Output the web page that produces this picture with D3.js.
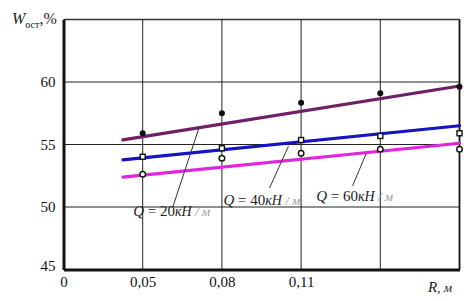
<!DOCTYPE html>
<html>
<head>
<meta charset="utf-8">
<script src="https://cdn.jsdelivr.net/npm/d3@7"></script>
<style>
  body { margin: 0; background: #fff; }
</style>
</head>
<body>
<div id="chart"></div>
<script>
"use strict";

// x positions are evenly spaced categories (index), labels as printed
const xTickLabels = ["0", "0,05", "0,08", "0,11", "", ""];
const pointIndex = [1, 2, 3, 4, 5];
const yTicks = [45, 50, 55, 60];

// measured points
const q20Points = [55.9, 57.5, 58.34, 59.1, 59.62];
const q40Points = [54.02, 54.7, 55.36, 55.68, 55.9];
const q60Points = [52.62, 53.9, 54.3, 54.62, 54.62];

// fitted lines: [start index, end index] and values
const fitIndex = [0.75, 5];
const q20Fit = [55.37, 59.68];
const q40Fit = [53.77, 56.5];
const q60Fit = [52.39, 55.1];

// label values and leader lines (index, value)
const seriesLoads = ["20", "40", "60"];
const labelAnchor = [[0.88, 49.25], [2.02, 50.2], [3.19, 50.52]];
const leaderFrom = [[1.38, 50.0], [2.6, 51.5], [3.65, 51.7]];
const leaderTo = [[1.71, 56.32], [2.84, 54.86], [3.82, 54.24]];

const serif = "'Liberation Serif', 'Times New Roman', 'DejaVu Serif', serif";

function draw() {
    const width = 469, height = 301;
    const margin = { top: 19.5, right: 9.5, bottom: 31.5, left: 63.5 };
    const w = width - margin.left - margin.right;
    const h = height - margin.top - margin.bottom;

    const xScale = d3.scaleLinear().domain([0, 5]).range([0, w]);
    const yScale = d3.scaleLinear().domain([45, 65]).range([h, 0]);

    let svg = d3.select("#chart").append("svg")
        .attr("width", width)
        .attr("height", height)
        .append("g")
        .attr("transform", `translate(${margin.left},${margin.top})`);

    // grid
    svg.append("g")
        .selectAll("line")
        .data(d3.range(1, 5))
        .enter()
        .append("line")
        .attr("x1", d => xScale(d)).attr("x2", d => xScale(d))
        .attr("y1", 0).attr("y2", h)
        .style("stroke", "#222").style("stroke-width", 1);

    svg.append("g")
        .selectAll("line")
        .data([50, 55, 60])
        .enter()
        .append("line")
        .attr("x1", 0).attr("x2", w)
        .attr("y1", d => yScale(d)).attr("y2", d => yScale(d))
        .style("stroke", "#222").style("stroke-width", 1);

    // frame: top and right thinner
    svg.append("line").attr("x1", 0).attr("x2", w).attr("y1", 0).attr("y2", 0)
        .style("stroke", "#333").style("stroke-width", 1.6);
    svg.append("line").attr("x1", w).attr("x2", w).attr("y1", 0).attr("y2", h)
        .style("stroke", "#111").style("stroke-width", 1.8);

    // axes
    let xAxis = d3.axisBottom(xScale)
        .tickValues(d3.range(0, 6))
        .tickFormat(i => xTickLabels[i])
        .tickSize(0)
        .tickPadding(7);
    let gx = svg.append("g")
        .attr("transform", `translate(0,${h})`)
        .call(xAxis)
        .attr("font-family", serif)
        .attr("font-size", 15);
    gx.select(".domain").style("stroke", "#111").style("stroke-width", 3);
    gx.selectAll("text").style("fill", "#111");

    let yAxis = d3.axisLeft(yScale)
        .tickValues(yTicks)
        .tickSize(0)
        .tickPadding(8);
    let gy = svg.append("g").call(yAxis)
        .attr("font-family", serif)
        .attr("font-size", 15);
    gy.select(".domain").style("stroke", "#111").style("stroke-width", 3);
    gy.selectAll("text").style("fill", "#111");
    gy.selectAll(".tick").filter(d => d === 45).select("text").attr("dy", "0.05em");

    // fitted lines
    const fits = [
        { values: q20Fit, color: "#6e1f66" },
        { values: q40Fit, color: "#1414c4" },
        { values: q60Fit, color: "#e026dc" }
    ];
    fits.forEach(f => {
        svg.append("line")
            .attr("x1", xScale(fitIndex[0])).attr("y1", yScale(f.values[0]))
            .attr("x2", xScale(fitIndex[1])).attr("y2", yScale(f.values[1]))
            .style("stroke", f.color).style("stroke-width", 3.2)
            .style("stroke-linecap", "round");
    });

    // markers
    svg.selectAll(".dot-filled")
        .data(q20Points)
        .enter()
        .append("circle")
        .attr("cx", (d, i) => xScale(pointIndex[i]))
        .attr("cy", d => yScale(d))
        .attr("r", 3)
        .style("fill", "#111");

    svg.selectAll(".dot-square")
        .data(q40Points)
        .enter()
        .append("rect")
        .attr("x", (d, i) => xScale(pointIndex[i]) - 2.5)
        .attr("y", d => yScale(d) - 2.5)
        .attr("width", 5).attr("height", 5)
        .style("fill", "#fff").style("stroke", "#111").style("stroke-width", 1.4);

    svg.selectAll(".dot-open")
        .data(q60Points)
        .enter()
        .append("circle")
        .attr("cx", (d, i) => xScale(pointIndex[i]))
        .attr("cy", d => yScale(d))
        .attr("r", 2.8)
        .style("fill", "#fff").style("stroke", "#111").style("stroke-width", 1.4);

    // leader lines
    for (let k = 0; k < 3; k++) {
        svg.append("line")
            .attr("x1", xScale(leaderFrom[k][0])).attr("y1", yScale(leaderFrom[k][1]))
            .attr("x2", xScale(leaderTo[k][0])).attr("y2", yScale(leaderTo[k][1]))
            .style("stroke", "#333").style("stroke-width", 1);
    }

    // series labels
    for (let k = 0; k < 3; k++) {
        let t = svg.append("text")
            .attr("x", xScale(labelAnchor[k][0]))
            .attr("y", yScale(labelAnchor[k][1]))
            .style("font-family", serif)
            .style("font-size", "15px")
            .style("fill", "#222");
        t.append("tspan").text("Q").style("font-style", "italic");
        t.append("tspan").text(` = ${seriesLoads[k]}`);
        t.append("tspan").text("кН").style("font-style", "italic").style("font-size", "14px");
        t.append("tspan").text(" / м").style("font-style", "italic")
            .style("font-size", "13px").style("fill", "#999");
    }

    // axis titles
    let yt = svg.append("text")
        .attr("x", 12 - margin.left)
        .attr("y", 24 - margin.top)
        .style("font-family", serif)
        .style("font-size", "16px")
        .style("fill", "#222");
    yt.append("tspan").text("W").style("font-style", "italic");
    yt.append("tspan").text("ост").attr("dy", 4).style("font-size", "10px");
    yt.append("tspan").text(",%").attr("dy", -4);

    let xt = svg.append("text")
        .attr("x", 428 - margin.left)
        .attr("y", 292 - margin.top)
        .style("font-family", serif)
        .style("font-size", "15px")
        .style("fill", "#222")
        .style("font-style", "italic");
    xt.append("tspan").text("R");
    xt.append("tspan").text(", м").style("font-size", "13px");
}

draw();
</script>
</body>
</html>
